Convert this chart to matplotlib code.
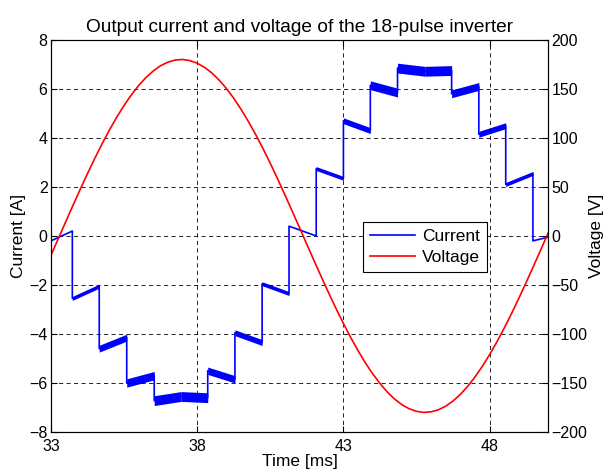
import matplotlib
matplotlib.use("Agg")
import matplotlib.pyplot as plt

plt.rcParams["font.family"] = ["Liberation Sans", "DejaVu Sans"]
plt.rcParams["font.size"] = 12.5

# current: 18-pulse staircase, one segment between each pair of switching instants
step_t = [33.0, 33.73, 34.65, 35.59, 36.53, 37.45, 38.36, 39.29, 40.22, 41.14,
          42.07, 43.0, 43.92, 44.85, 45.78, 46.7, 47.63, 48.55, 49.48, 50.0]
i_start = [-0.2, -2.55, -4.6, -6.0, -6.72, -6.55, -5.5, -3.95, -1.95, 0.4,
           2.75, 4.7, 6.15, 6.85, 6.72, 5.8, 4.15, 2.1, -0.2]
i_end = [0.2, -2.05, -4.15, -5.7, -6.55, -6.6, -5.85, -4.35, -2.35, 0.0,
         2.35, 4.3, 5.85, 6.72, 6.75, 6.1, 4.5, 2.55, -0.05]
ripple = [0, 0.08, 0.14, 0.17, 0.2, 0.2, 0.15, 0.12, 0.08, 0,
          0.08, 0.12, 0.18, 0.2, 0.2, 0.16, 0.12, 0.08, 0]

# voltage every 0.25 ms
v_t = [33.0 + 0.25 * k for k in range(69)]
v_val = [-19.6, -2.7, 14.2, 31.1, 47.6, 63.7, 79.3, 94.2, 108.2, 121.2, 133.2,
         144.0, 153.5, 161.7, 168.4, 173.7, 177.3, 179.5, 180.0, 178.9, 176.2,
         172.0, 166.3, 159.0, 150.4, 140.4, 129.2, 116.8, 103.4, 89.1, 74.0,
         58.2, 41.9, 25.2, 8.4, -8.6, -25.5, -42.1, -58.4, -74.2, -89.3,
         -103.6, -117.0, -129.4, -140.6, -150.5, -159.2, -166.4, -172.1,
         -176.3, -178.9, -180.0, -179.4, -177.3, -173.6, -168.3, -161.6,
         -153.4, -143.8, -133.0, -121.0, -108.0, -93.9, -79.1, -63.5, -47.4,
         -30.8, -14.0, 3.0]

x_ticks = [33, 38, 43, 48]

fig = plt.figure(figsize=(6.07, 4.75), dpi=100)
ax1 = fig.add_axes([0.084, 0.0905, 0.819, 0.8255])
ax2 = ax1.twinx()

xs, ys = [], []
for k in range(len(i_start)):
    t0, t1 = step_t[k], step_t[k + 1]
    xs += [t0, t1]
    ys += [i_start[k], i_end[k]]
    if ripple[k] > 0:
        r = ripple[k]
        ax1.fill_between([t0, t1], [i_start[k] - r, i_end[k] - r],
                         [i_start[k] + r, i_end[k] + r], color="blue", lw=0)
l1, = ax1.plot(xs, ys, color="blue", lw=1.2, label="Current")
l2, = ax2.plot(v_t, v_val, color="red", lw=1.2, label="Voltage")

ax1.set_xlim(33, 50)
ax1.set_ylim(-8, 8)
ax2.set_ylim(-200, 200)
ax1.set_xticks(x_ticks)
ax1.set_yticks(range(-8, 9, 2))
ax2.set_yticks(range(-200, 201, 50))

ax1.grid(True, color="black", linestyle=(0, (5, 4)), lw=0.6)
ax1.tick_params(direction="in", top=True, length=4, labelsize=11.5, pad=2.5)
ax1.tick_params(axis="x", pad=5)
ax2.tick_params(direction="in", length=4, labelsize=11.5, pad=2.5)

ax1.set_xlabel("Time [ms]", labelpad=0)
ax1.set_ylabel("Current [A]", labelpad=2)
ax2.set_ylabel("Voltage [V]", labelpad=1)
ax1.set_title("Output current and voltage of the 18-pulse inverter", fontsize=13.8)

leg = ax2.legend([l1, l2], ["Current", "Voltage"], loc="upper left",
                 bbox_to_anchor=(0.628, 0.536), borderaxespad=0,
                 fancybox=False, framealpha=1, edgecolor="black",
                 fontsize=12.5, borderpad=0.4, handlelength=2.6,
                 handletextpad=0.4, labelspacing=0.35)
leg.get_frame().set_linewidth(0.8)

fig.savefig("out.png", dpi=100)
